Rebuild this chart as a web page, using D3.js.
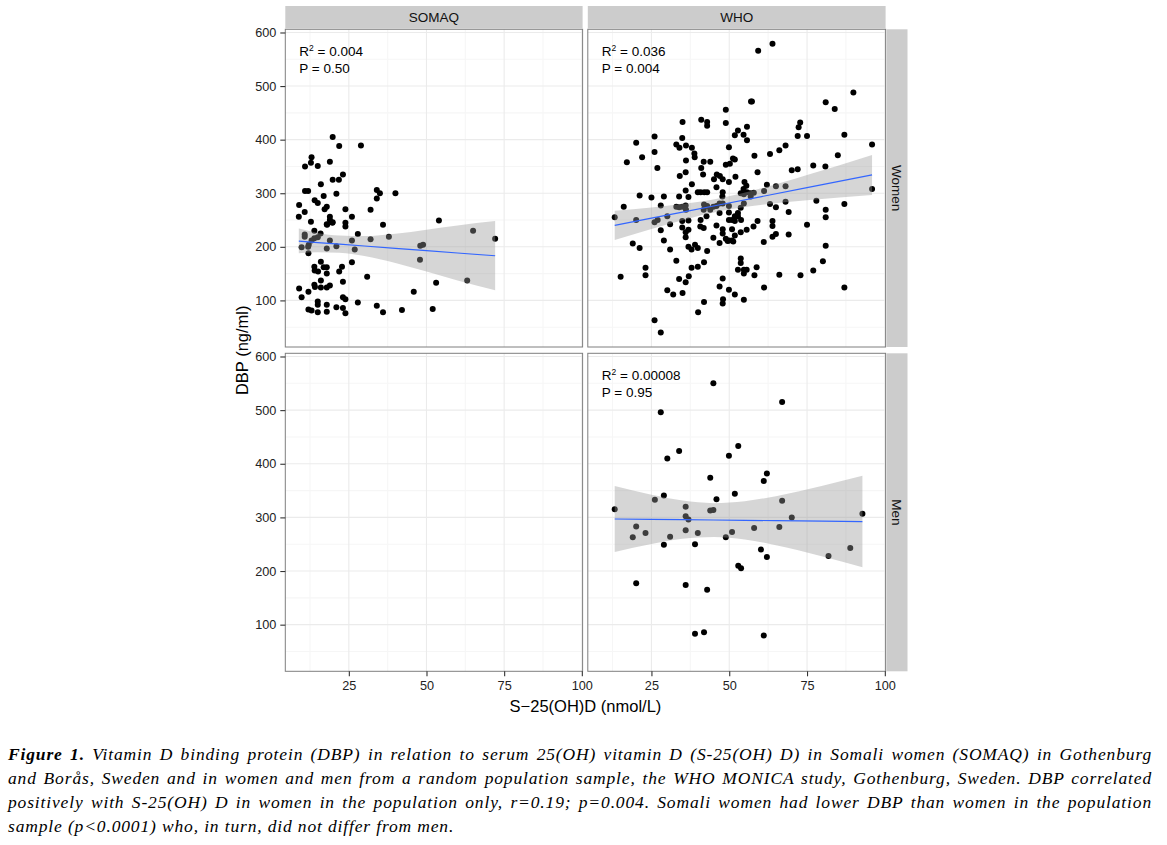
<!DOCTYPE html>
<html>
<head>
<meta charset="utf-8">
<script src="https://cdn.jsdelivr.net/npm/d3@7"></script>
<style>
  body { margin: 0; background: #fff; width: 1167px; height: 845px; overflow: hidden; position: relative; }
  svg { position: absolute; left: 0; top: 0; }
  #caption { position: absolute; left: 8px; top: 742px; width: 1144px;
    font-family: 'Liberation Serif', 'Times New Roman', serif; font-style: italic;
    font-size: 17.5px; letter-spacing: 0.85px; line-height: 24px; color: #000; }
  #caption .j { text-align: justify; text-align-last: justify; white-space: nowrap; }
</style>
</head>
<body>
<svg id="chart" width="1167" height="845"></svg>
<div id="caption"></div>
<script>
// ---------------- data ----------------
const columns = ["SOMAQ", "WHO"];
const rows = ["Women", "Men"];
const xTicks = [25, 50, 75, 100];
const yTicks = [100, 200, 300, 400, 500, 600];
const xLabel = "S\u221225(OH)D (nmol/L)";
const yLabel = "DBP (ng/ml)";

// [S-25(OH)D, DBP]
const somaqWomen = [
  [19.8,405],[21.9,388],[28.9,389],[13.0,367],[12.8,357],[10.9,350],[15.0,351],[18.9,359],[23.1,335],[19.8,325],
  [21.8,325],[16.0,317],[10.9,304],[11.9,304],[16.9,295],[14.0,287],[15.0,282],[21.0,299],[17.9,275],[17.2,270],
  [23.9,270],[9.0,278],[8.9,256],[10.8,265],[12.8,247],[18.9,256],[18.9,250],[19.8,246],[17.9,242],[23.9,245],
  [23.9,238],[26.0,256],[34.0,306],[35.0,300],[34.0,290],[40.0,300],[32.0,269],[36.0,241],[54.0,249],[65.0,230],
  [72.1,215],[37.9,219],[32.0,214],[27.9,224],[26.0,212],[26.9,195],[21.0,201],[17.9,197],[18.9,212],[48.9,204],
  [48.0,202],[47.9,176],[10.8,223],[10.8,219],[9.8,199],[11.9,200],[12.0,188],[13.9,230],[13.9,216],[15.0,218],
  [15.9,225],[13.0,212],[12.1,204],[16.0,172],[13.9,163],[14.0,156],[15.1,154],[17.9,162],[17.9,150],[16.9,162],
  [21.9,154],[22.8,163],[26.0,171],[30.9,144],[23.1,135],[16.0,137],[13.9,129],[14.1,125],[16.0,124],[17.9,124],
  [18.9,128],[9.0,122],[12.0,116],[9.8,106],[23.1,106],[23.9,102],[15.0,98],[15.0,92],[17.9,92],[17.9,79],
  [12.0,83],[13.0,81],[15.0,78],[21.0,87],[23.1,86],[23.9,76],[27.9,96],[34.0,90],[36.0,78],[42.1,82],
  [45.9,116],[52.0,84],[53.1,133],[63.1,137],[19.7,245],[18.0,241]
];

const whoWomen = [
  [13.2,255],[16.1,275],[15.1,144],[17.1,358],[20.1,394],[22.0,367],[21.2,296],[20.1,250],[19.0,206],[21.2,198],
  [23.1,161],[23.1,147],[25.0,292],[26.0,406],[26.0,377],[26.9,347],[29.0,294],[28.0,277],[26.0,246],[27.0,250],
  [30.1,257],[28.0,231],[29.0,212],[31.0,242],[31.0,195],[33.0,174],[26.0,63],[28.0,40],[30.1,119],[32.0,111],
  [33.0,391],[34.0,385],[34.9,403],[35.0,433],[36.1,389],[36.1,361],[36.0,339],[34.1,332],[38.0,385],[38.8,374],
  [38.9,367],[41.0,437],[42.9,433],[42.9,426],[41.8,359],[43.9,359],[41.0,347],[41.6,335],[36.0,305],[33.9,294],
  [33.0,275],[34.9,275],[36.0,277],[33.9,274],[36.9,293],[38.0,317],[39.9,302],[40.8,302],[42.0,302],[42.9,302],
  [36.1,269],[34.9,248],[34.9,236],[36.9,249],[36.0,227],[36.9,232],[36.0,218],[36.9,200],[37.9,195],[39.0,204],
  [39.9,198],[40.7,238],[41.8,235],[40.8,250],[42.7,257],[41.8,269],[42.9,276],[43.9,269],[44.9,275],[45.9,276],
  [46.9,281],[45.9,311],[46.0,335],[47.0,332],[45.1,326],[47.9,326],[44.9,217],[42.9,192],[41.9,171],[39.9,163],
  [37.9,161],[37.0,145],[33.9,140],[36.0,134],[35.0,114],[40.0,78],[41.9,97],[45.9,240],[46.9,263],[47.9,302],
  [47.8,294],[47.9,281],[46.9,207],[47.9,225],[47.9,233],[48.9,353],[48.9,431],[48.9,456],[49.9,386],[49.9,321],
  [49.9,276],[49.9,264],[49.9,250],[48.9,215],[49.9,212],[46.9,126],[47.9,141],[48.0,102],[47.9,94],[49.9,120],
  [51.8,111],[54.7,101],[41.9,279],[49.5,211],[51.3,210],
  [50.2,355],[51.2,365],[51.8,408],[52.8,417],[54.6,409],[55.7,399],[51.8,363],[52.0,331],[54.9,321],[55.5,314],
  [53.7,300],[54.7,298],[56.8,300],[57.9,301],[54.7,281],[53.7,273],[52.8,263],[51.8,257],[50.9,250],[51.8,248],
  [52.8,257],[53.8,250],[50.9,233],[51.8,221],[50.9,212],[53.7,227],[55.6,232],[57.8,238],[59.1,248],[58.1,370],
  [59.1,339],[62.1,316],[61.2,304],[65.0,313],[68.1,313],[63.1,373],[66.1,380],[68.1,389],[63.1,280],[65.0,274],
  [63.9,248],[63.9,239],[63.9,219],[65.0,224],[61.1,209],[58.8,162],[53.7,178],[53.7,170],[52.8,157],[54.7,157],
  [54.7,150],[55.6,157],[58.1,147],[61.2,124],[66.1,148],[55.7,424],[57.0,471],[57.3,471],[59.3,566],[63.9,579],
  [54.6,308],[55.7,302],[56.9,294],
  [70.1,343],[72.0,345],[77.0,352],[80.9,350],[84.9,371],[72.3,423],[72.8,432],[72.0,407],[75.0,407],[81.0,470],
  [83.9,457],[87.0,409],[89.9,488],[95.9,391],[95.9,308],[68.1,284],[69.1,265],[69.1,223],[75.0,241],[78.0,286],
  [81.0,269],[81.0,255],[81.0,202],[87.0,280],[80.1,173],[77.0,156],[72.9,147],[87.0,124]
];

const whoMen = [
  [44.9,550],[67.0,515],[28.0,496],[33.9,424],[30.1,410],[52.9,433],[49.9,415],[43.9,374],[62.1,382],[61.1,368],
  [29.0,341],[26.1,333],[45.9,334],[51.8,344],[67.0,331],[13.2,315],[36.0,320],[43.9,313],[44.9,314],[36.0,302],
  [36.9,296],[92.8,307],[70.1,300],[20.1,283],[19.0,263],[23.1,271],[31.0,264],[36.0,276],[39.9,271],[48.9,263],
  [50.9,273],[58.0,280],[66.1,282],[29.0,249],[39.0,250],[60.2,240],[62.1,226],[81.9,228],[88.9,243],[52.9,210],
  [53.8,205],[20.1,177],[36.0,174],[42.9,165],[39.0,83],[41.9,86],[61.1,80]
];

// fitted lines with 95% band: [x, fit, lower, upper]
const somaqFit = [
  [8.9,210.7,188,234],[15,208,190,226],[22,205,189,221],[30,201.5,183,220],[40,197.2,170,224.5],
  [50,192.9,154,232],[60,188.5,137,240],[72.1,183.3,119,248]
];
const whoWomenFit = [
  [13.2,240,212.7,267.3],[25,253.4,233.4,273.4],[35,264.8,249.8,279.8],[47,278.5,266.3,290.7],
  [60,293.3,277.9,308.7],[75,310.4,286.8,334],[95.9,334.2,296.9,371.5]
];
const whoMenFit = [
  [13.2,297,235.6,358.4],[25,296.3,250.6,342],[35,295.7,260.1,331.3],[45,295.1,263.6,326.6],
  [55,294.5,258.9,330.1],[65,293.9,248.2,339.6],[80,293.1,227.1,359.1],[92.8,292.3,207,377.6]
];

const stats = {
  "SOMAQ|Women": ["0.004", "0.50"],
  "WHO|Women": ["0.036", "0.004"],
  "WHO|Men": ["0.00008", "0.95"]
};

const panelsData = [
  { col: "SOMAQ", row: "Women", pts: somaqWomen, fit: somaqFit },
  { col: "WHO", row: "Women", pts: whoWomen, fit: whoWomenFit },
  { col: "SOMAQ", row: "Men", pts: [], fit: null },
  { col: "WHO", row: "Men", pts: whoMen, fit: whoMenFit }
];

// ---------------- layout ----------------
const svg = d3.select("#chart");
const colX = { SOMAQ: [285.3, 582.6], WHO: [587.8, 885.6] };
const rowY = { Women: [29.3, 347.0], Men: [353.3, 671.3] };
const stripTop = 6, stripRight = 907.5;

const allPts = somaqWomen.concat(whoWomen, whoMen);
const xExt = d3.extent(allPts, d => d[0]);
const yExt = d3.extent(allPts, d => d[1]);
const xPad = (xExt[1] - xExt[0]) * 0.05, yPad = (yExt[1] - yExt[0]) * 0.05;
const xDom = [xExt[0] - xPad, xExt[1] + xPad];
const yDom = [yExt[0] - yPad, yExt[1] + yPad];

const xMinor = [12.5, 37.5, 62.5, 87.5];
const yMinor = [50, 150, 250, 350, 450, 550];

const fontSans = "'Liberation Sans', Arial, Helvetica, sans-serif";

panelsData.forEach(p => {
  const [x0, x1] = colX[p.col];
  const [y0, y1] = rowY[p.row];
  const xs = d3.scaleLinear().domain(xDom).range([x0, x1]);
  const ys = d3.scaleLinear().domain(yDom).range([y1, y0]);
  const g = svg.append("g");

  g.append("rect").attr("x", x0).attr("y", y0).attr("width", x1 - x0).attr("height", y1 - y0).attr("fill", "#fff");
  // minor grid
  g.selectAll(".ymin").data(yMinor).enter().append("line")
    .attr("x1", x0).attr("x2", x1).attr("y1", d => ys(d)).attr("y2", d => ys(d))
    .attr("stroke", "#f6f6f6").attr("stroke-width", 1.1);
  g.selectAll(".xmin").data(xMinor).enter().append("line")
    .attr("y1", y0).attr("y2", y1).attr("x1", d => xs(d)).attr("x2", d => xs(d))
    .attr("stroke", "#f6f6f6").attr("stroke-width", 1.1);
  // major grid
  g.selectAll(".ymaj").data(yTicks).enter().append("line")
    .attr("x1", x0).attr("x2", x1).attr("y1", d => ys(d)).attr("y2", d => ys(d))
    .attr("stroke", "#ebebeb").attr("stroke-width", 1.1);
  g.selectAll(".xmaj").data(xTicks).enter().append("line")
    .attr("y1", y0).attr("y2", y1).attr("x1", d => xs(d)).attr("x2", d => xs(d))
    .attr("stroke", "#ebebeb").attr("stroke-width", 1.1);

  // points
  g.selectAll("circle").data(p.pts).enter().append("circle")
    .attr("cx", d => xs(d[0])).attr("cy", d => ys(d[1])).attr("r", 3).attr("fill", "#000");

  // smooth band and line
  if (p.fit) {
    const area = d3.area().x(d => xs(d[0])).y0(d => ys(d[2])).y1(d => ys(d[3])).curve(d3.curveMonotoneX);
    g.append("path").datum(p.fit).attr("d", area).attr("fill", "#999999").attr("fill-opacity", 0.4);
    const line = d3.line().x(d => xs(d[0])).y(d => ys(d[1]));
    g.append("path").datum(p.fit).attr("d", line).attr("fill", "none").attr("stroke", "#3366FF").attr("stroke-width", 1.2);
  }

  // annotation
  const st = stats[p.col + "|" + p.row];
  if (st) {
    const t1 = g.append("text").attr("x", x0 + 14).attr("y", y0 + 26.5)
      .attr("font-family", fontSans).attr("font-size", 13.5).attr("fill", "#000");
    t1.append("tspan").text("R");
    t1.append("tspan").attr("font-size", 8.5).attr("dy", -5).text("2");
    t1.append("tspan").attr("dy", 5).text(" = " + st[0]);
    g.append("text").attr("x", x0 + 14).attr("y", y0 + 43.5)
      .attr("font-family", fontSans).attr("font-size", 13.5).attr("fill", "#000")
      .text("P = " + st[1]);
  }

  // border
  g.append("rect").attr("x", x0).attr("y", y0).attr("width", x1 - x0).attr("height", y1 - y0)
    .attr("fill", "none").attr("stroke", "#7f7f7f").attr("stroke-width", 1);

  // axes
  if (p.col === "SOMAQ") {
    const ax = d3.axisLeft(ys).tickValues(yTicks).tickSize(5).tickPadding(4);
    const ag = g.append("g").attr("transform", `translate(${x0},0)`).call(ax);
    ag.select(".domain").remove();
    ag.selectAll(".tick line").attr("stroke", "#333").attr("stroke-width", 1.1);
    ag.selectAll(".tick text").attr("font-family", fontSans).attr("font-size", 12.7).attr("fill", "#222");
  }
  if (p.row === "Men") {
    const ax = d3.axisBottom(xs).tickValues(xTicks).tickSize(5).tickPadding(5);
    const ag = g.append("g").attr("transform", `translate(0,${y1})`).call(ax);
    ag.select(".domain").remove();
    ag.selectAll(".tick line").attr("stroke", "#333").attr("stroke-width", 1.1);
    ag.selectAll(".tick text").attr("font-family", fontSans).attr("font-size", 12.7).attr("fill", "#222");
  }
});

// column strips
columns.forEach(c => {
  const [x0, x1] = colX[c];
  svg.append("rect").attr("x", x0).attr("y", stripTop).attr("width", x1 - x0).attr("height", rowY.Women[0] - stripTop - 0.5)
    .attr("fill", "#cccccc");
  svg.append("text").attr("x", (x0 + x1) / 2).attr("y", (stripTop + rowY.Women[0]) / 2)
    .attr("dy", "0.35em").attr("text-anchor", "middle")
    .attr("font-family", fontSans).attr("font-size", 13.5).attr("fill", "#111").text(c);
});
// row strips
rows.forEach(r => {
  const [y0, y1] = rowY[r];
  const sx0 = colX.WHO[1] + 0.8;
  svg.append("rect").attr("x", sx0).attr("y", y0).attr("width", stripRight - sx0).attr("height", y1 - y0)
    .attr("fill", "#cccccc");
  const cx = (sx0 + stripRight) / 2, cy = (y0 + y1) / 2;
  svg.append("text").attr("transform", `translate(${cx},${cy}) rotate(90)`)
    .attr("dy", "0.35em").attr("text-anchor", "middle")
    .attr("font-family", fontSans).attr("font-size", 13.5).attr("fill", "#111").text(r);
});

// axis titles
svg.append("text").attr("x", (colX.SOMAQ[0] + colX.WHO[1]) / 2).attr("y", 711.5)
  .attr("text-anchor", "middle").attr("font-family", fontSans).attr("font-size", 16.5).attr("fill", "#000")
  .text(xLabel);
svg.append("text").attr("transform", `translate(248,${(rowY.Women[0] + rowY.Men[1]) / 2}) rotate(-90)`)
  .attr("text-anchor", "middle").attr("font-family", fontSans).attr("font-size", 16.5).attr("fill", "#000")
  .text(yLabel);

// caption
const captionLines = [
  ["Figure 1.", " Vitamin D binding protein (DBP) in relation to serum 25(OH) vitamin D (S-25(OH) D) in Somali women (SOMAQ) in Gothenburg"],
  ["", "and Bor\u00e5s, Sweden and in women and men from a random population sample, the WHO MONICA study, Gothenburg, Sweden. DBP correlated"],
  ["", "positively with S-25(OH) D in women in the population only, r=0.19; p=0.004. Somali women had lower DBP than women in the population"],
  ["", "sample (p<0.0001) who, in turn, did not differ from men."]
];
const cap = d3.select("#caption");
captionLines.forEach((l, i) => {
  const d = cap.append("div").attr("class", i < 3 ? "j" : null);
  if (l[0]) d.append("b").text(l[0]);
  d.append("span").text(l[1]);
});
</script>
</body>
</html>
